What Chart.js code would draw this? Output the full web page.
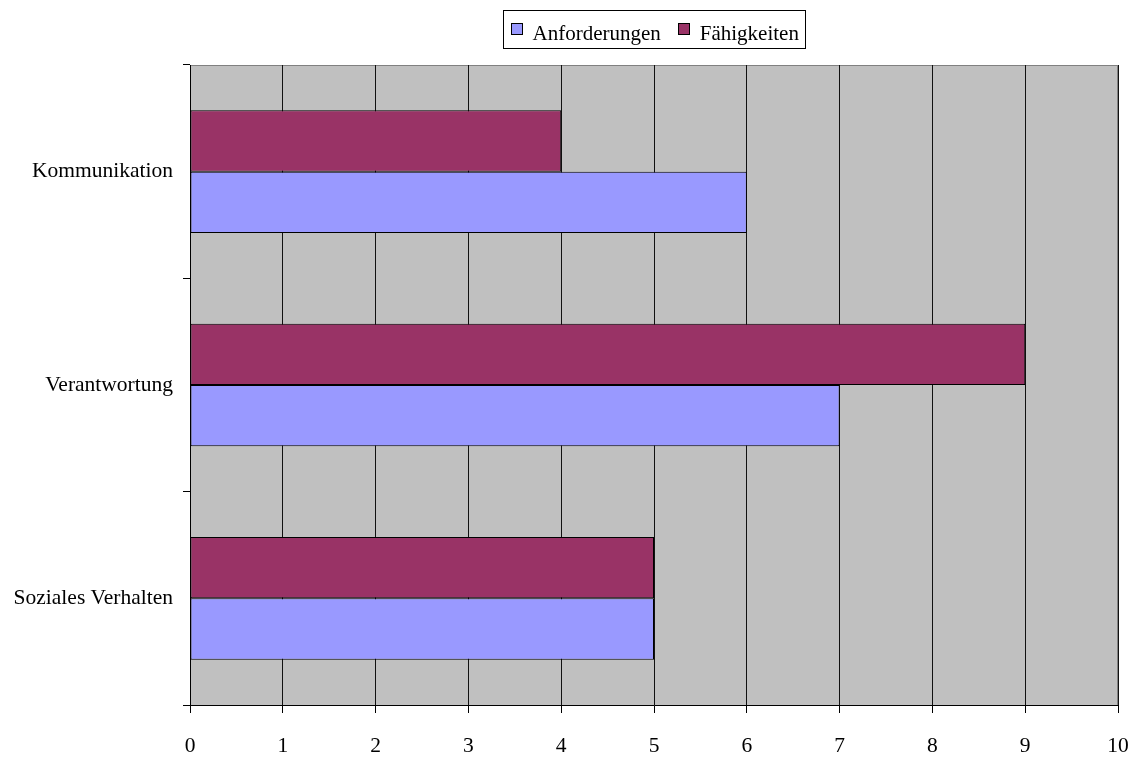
<!DOCTYPE html>
<html>
<head>
<meta charset="utf-8">
<script src="https://cdn.jsdelivr.net/npm/chart.js@4/dist/chart.umd.min.js"></script>
<style>
  html, body { margin: 0; padding: 0; background: #fff; }
  #wrap { width: 1136px; height: 758px; }
</style>
</head>
<body>
<div id="wrap"><canvas id="c" width="1136" height="758"></canvas></div>
<script>
// Skill areas and scores
const categories = ['Kommunikation', 'Verantwortung', 'Soziales Verhalten'];
const anforderungen = [6, 7, 5];
const faehigkeiten = [4, 9, 5];
const xTicks = [0, 1, 2, 3, 4, 5, 6, 7, 8, 9, 10];

const FONT = '"Liberation Serif", "Times New Roman", serif';
const FONT_SIZE = 21.5;

// Plot background, frame and boxed legend
const framePlugin = {
  id: 'frame',
  beforeDraw(chart) {
    const { ctx, chartArea: a } = chart;
    ctx.save();
    ctx.fillStyle = '#C0C0C0';
    ctx.fillRect(a.left, a.top, a.right - a.left, a.bottom - a.top);
    ctx.strokeStyle = '#808080';
    ctx.lineWidth = 1;
    ctx.strokeRect(a.left + 0.5, a.top + 0.5, a.right - a.left - 1, a.bottom - a.top);
    ctx.restore();
  },
  afterDraw(chart) {
    const { ctx, chartArea: a } = chart;
    // legend items in display order (reverse of dataset order)
    const items = chart.data.datasets.slice().reverse();
    ctx.save();
    ctx.font = '21px ' + FONT;
    ctx.textBaseline = 'alphabetic';
    const sq = 12, gap = 10, itemGap = 17, padX = 7;
    let total = 0;
    const widths = items.map(d => ctx.measureText(d.label).width);
    widths.forEach((w, i) => { total += sq + gap + w + (i < items.length - 1 ? itemGap : 0); });
    const boxW = total + padX * 2;
    const cx = (a.left + a.right) / 2;
    const boxL = Math.round(cx - boxW / 2) + 0.5;
    const boxT = 10.5, boxH = 38;
    ctx.strokeStyle = '#000';
    ctx.lineWidth = 1;
    ctx.strokeRect(boxL, boxT, Math.round(boxW), boxH);
    let x = boxL + padX;
    items.forEach((d, i) => {
      ctx.fillStyle = d.backgroundColor;
      ctx.fillRect(Math.round(x), 23, sq, sq);
      ctx.strokeStyle = '#000';
      ctx.strokeRect(Math.round(x) + 0.5, 23.5, sq - 1, sq - 1);
      x += sq + gap;
      ctx.fillStyle = '#000';
      ctx.fillText(d.label, x, 40);
      x += widths[i] + itemGap;
    });
    ctx.restore();
  }
};

new Chart(document.getElementById('c'), {
  type: 'bar',
  data: {
    labels: categories,
    datasets: [
      {
        label: 'Fähigkeiten',
        data: faehigkeiten,
        backgroundColor: '#993366',
        borderColor: '#000',
        borderWidth: 1,
        borderSkipped: false
      },
      {
        label: 'Anforderungen',
        data: anforderungen,
        backgroundColor: '#9999FF',
        borderColor: '#000',
        borderWidth: 1,
        borderSkipped: false
      }
    ]
  },
  options: {
    indexAxis: 'y',
    responsive: false,
    animation: false,
    layout: { padding: { top: 65, right: 18, bottom: 0, left: 0 } },
    datasets: {
      bar: { barPercentage: 1, categoryPercentage: 0.575 }
    },
    plugins: {
      legend: { display: false },
      tooltip: { enabled: false }
    },
    scales: {
      x: {
        type: 'linear',
        min: 0,
        max: 10,
        afterBuildTicks(scale) { scale.ticks = xTicks.map(v => ({ value: v })); },
        afterFit(scale) {
          scale.height = 53;
          scale.paddingLeft = 0;
          scale.paddingRight = 0;
        },
        grid: {
          color: '#111',
          lineWidth: 1,
          tickColor: '#000',
          tickLength: 8,
          drawOnChartArea: true
        },
        border: { color: '#000', width: 1 },
        ticks: {
          color: '#000',
          font: { family: FONT, size: FONT_SIZE },
          padding: 20,
          maxRotation: 0
        }
      },
      y: {
        type: 'category',
        afterFit(scale) {
          scale.width = 190;
          scale.paddingTop = 0;
          scale.paddingBottom = 0;
        },
        grid: {
          offset: true,
          drawOnChartArea: false,
          tickColor: '#000',
          tickLength: 7
        },
        border: { color: '#000', width: 1 },
        ticks: {
          color: '#000',
          font: { family: FONT, size: FONT_SIZE },
          padding: 10
        }
      }
    }
  },
  plugins: [framePlugin]
});
</script>
</body>
</html>
